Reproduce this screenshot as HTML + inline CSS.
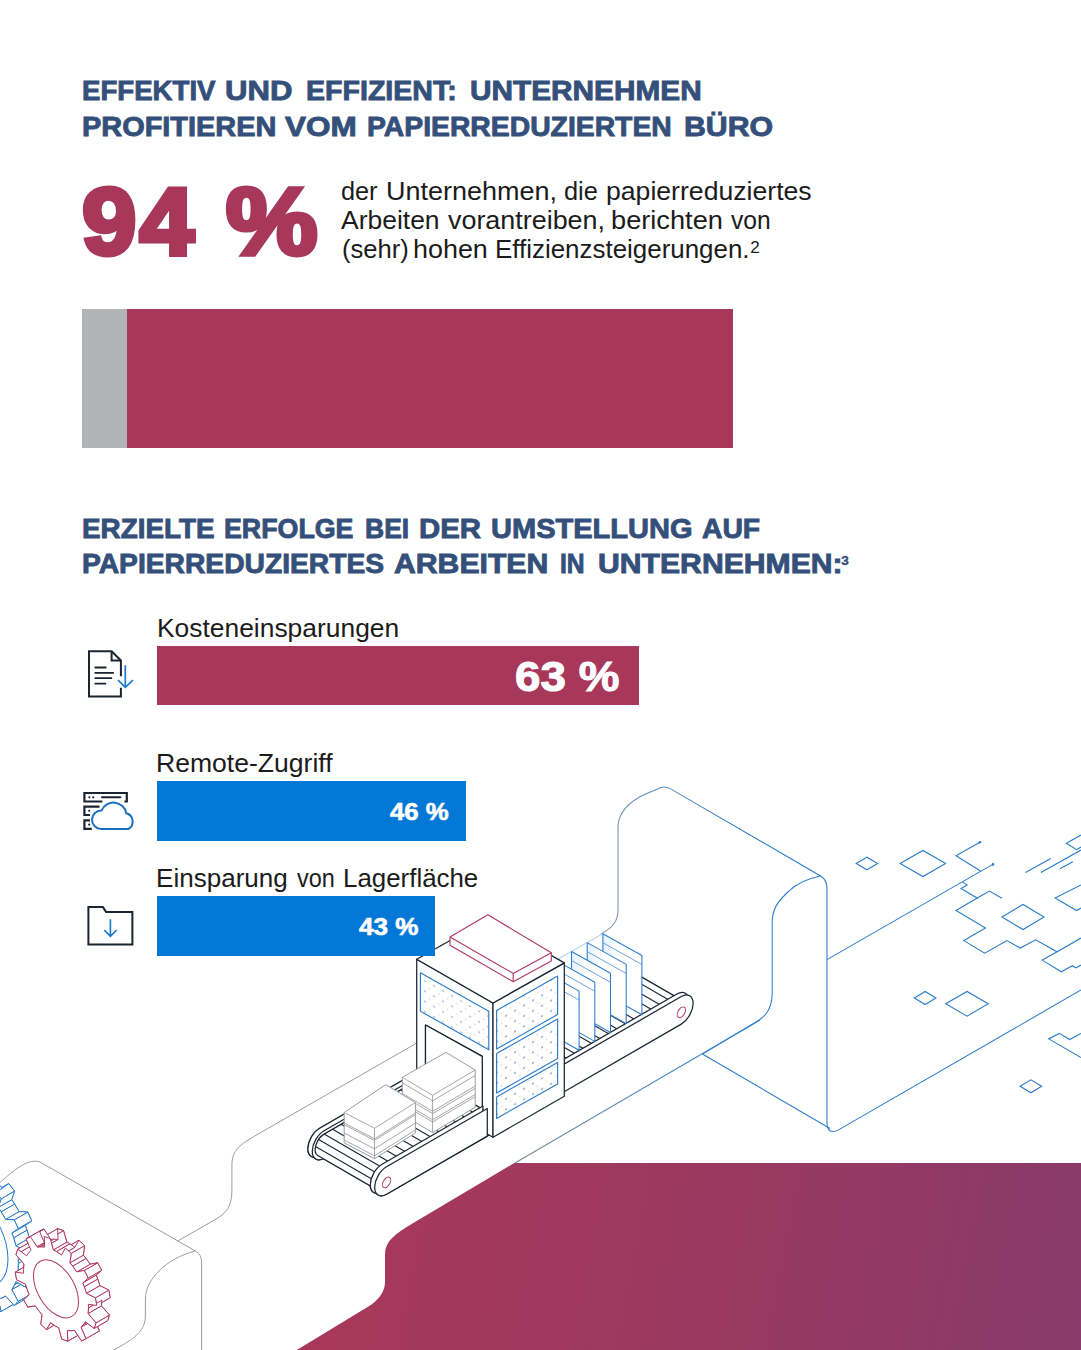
<!DOCTYPE html>
<html lang="de">
<head>
<meta charset="utf-8">
<title>Papierreduziertes Büro</title>
<style>
html,body{margin:0;padding:0;background:#fff;}
body{width:1081px;height:1350px;position:relative;overflow:hidden;font-family:"Liberation Sans",sans-serif;}
.abs{position:absolute;white-space:nowrap;line-height:1;}
.h{color:#34507a;font-weight:bold;font-size:28px;-webkit-text-stroke:0.9px #34507a;transform-origin:0 0;}
.p{color:#1b1b1b;font-size:25px;transform-origin:0 0;}
.big{color:#a8385b;font-weight:bold;font-size:95px;-webkit-text-stroke:5px #a8385b;transform-origin:0 0;}
.lab{color:#1b1b1b;font-size:25px;transform-origin:0 0;}
.bar{position:absolute;}
.val{color:#fff;font-weight:bold;-webkit-text-stroke:1px #fff;transform-origin:0 0;}
sup{font-size:0.58em;vertical-align:baseline;position:relative;top:-0.55em;-webkit-text-stroke:0;}
</style>
</head>
<body>
<!-- SECTION 1 -->
<div class="abs h" style="left:81.7px;top:76.5px;transform:scaleX(0.9867);">EFFEKTIV</div>
<div class="abs h" style="left:224.7px;top:76.5px;transform:scaleX(1.1119);">UND</div>
<div class="abs h" style="left:306.1px;top:76.5px;transform:scaleX(1.02);">EFFIZIENT:</div>
<div class="abs h" style="left:469.5px;top:76.5px;transform:scaleX(1.0639);">UNTERNEHMEN</div>
<div class="abs h" style="left:81.7px;top:112.7px;transform:scaleX(1.0328);">PROFITIEREN</div>
<div class="abs h" style="left:284.8px;top:112.7px;transform:scaleX(1.1254);">VOM</div>
<div class="abs h" style="left:367.0px;top:112.7px;transform:scaleX(1.0114);">PAPIERREDUZIERTEN</div>
<div class="abs h" style="left:683.6px;top:112.7px;transform:scaleX(1.0815);">BÜRO</div>
<div id="big" class="abs big" style="left:82px;top:174px;letter-spacing:3px;transform:scaleX(1.03);">94</div>
<div id="big2" class="abs big" style="left:225.5px;top:174px;transform:scaleX(1.083);">%</div>
<div class="abs p" style="left:340.5px;top:179.3px;transform:scaleX(1.0114);">der</div>
<div class="abs p" style="left:385.5px;top:179.3px;transform:scaleX(1.0787);">Unternehmen,</div>
<div class="abs p" style="left:563.8px;top:179.3px;transform:scaleX(1.0156);">die</div>
<div class="abs p" style="left:605.8px;top:179.3px;transform:scaleX(1.0646);">papierreduziertes</div>
<div class="abs p" style="left:340.8px;top:208.3px;transform:scaleX(1.0587);">Arbeiten</div>
<div class="abs p" style="left:447.9px;top:208.3px;transform:scaleX(1.0757);">vorantreiben,</div>
<div class="abs p" style="left:610.6px;top:208.3px;transform:scaleX(1.0881);">berichten</div>
<div class="abs p" style="left:731.3px;top:208.3px;transform:scaleX(0.9846);">von</div>
<div class="abs p" style="left:341.5px;top:237.3px;transform:scaleX(1.0238);">(sehr)</div>
<div class="abs p" style="left:413.1px;top:237.3px;transform:scaleX(1.0761);">hohen</div>
<div class="abs p" style="left:495.1px;top:237.3px;transform:scaleX(1.0368);">Effizienzsteigerungen.</div>
<div id="p3s" class="abs p" style="left:750.3px;top:239.3px;font-size:17px;">2</div>
<div class="bar" style="left:82px;top:309px;width:45px;height:139px;background:#b0b4b7;"></div>
<div class="bar" style="left:126.5px;top:309px;width:606.5px;height:139px;background:#a8385b;"></div>
<!-- SECTION 2 -->
<div class="abs h" style="left:81.7px;top:514.5px;transform:scaleX(0.9939);">ERZIELTE</div>
<div class="abs h" style="left:223.8px;top:514.5px;transform:scaleX(0.9567);">ERFOLGE</div>
<div class="abs h" style="left:364.5px;top:514.5px;transform:scaleX(0.9467);">BEI</div>
<div class="abs h" style="left:419.0px;top:514.5px;transform:scaleX(1.05);">DER</div>
<div class="abs h" style="left:490.5px;top:514.5px;transform:scaleX(1.0363);">UMSTELLUNG</div>
<div class="abs h" style="left:702.0px;top:514.5px;transform:scaleX(1.0105);">AUF</div>
<div class="abs h" style="left:81.7px;top:550.3px;transform:scaleX(1.0077);">PAPIERREDUZIERTES</div>
<div class="abs h" style="left:393.7px;top:550.3px;transform:scaleX(1.0782);">ARBEITEN</div>
<div class="abs h" style="left:560.0px;top:550.3px;transform:scaleX(0.8808);">IN</div>
<div class="abs h" style="left:597.6px;top:550.3px;transform:scaleX(1.0772);">UNTERNEHMEN:</div>
<div id="h2s" class="abs h" style="left:841.3px;top:553.6px;font-size:13.5px;-webkit-text-stroke:0.4px #34507a;">3</div>
<svg id="illus" class="abs" style="left:0;top:0;" width="1081" height="1350" viewBox="0 0 1081 1350">
<defs><linearGradient id="mg" gradientUnits="userSpaceOnUse" x1="330" y1="1200" x2="1081" y2="1350"><stop offset="0" stop-color="#a8385b"/><stop offset="0.45" stop-color="#9c395f"/><stop offset="1" stop-color="#883a6a"/></linearGradient><linearGradient id="lg" gradientUnits="userSpaceOnUse" x1="760" y1="1020" x2="515" y2="1164"><stop offset="0" stop-color="#2b80d2"/><stop offset="0.55" stop-color="#5b8fc0"/><stop offset="1" stop-color="#7c8794"/></linearGradient><linearGradient id="bgr" gradientUnits="userSpaceOnUse" x1="600" y1="0" x2="740" y2="0"><stop offset="0" stop-color="#8296ab"/><stop offset="1" stop-color="#2a7ccb"/></linearGradient><linearGradient id="sh" x1="0" y1="0" x2="1" y2="0"><stop offset="0" stop-color="#e4effb"/><stop offset="0.35" stop-color="#ffffff"/><stop offset="1" stop-color="#ffffff"/></linearGradient><pattern id="dots" patternUnits="userSpaceOnUse" width="9" height="10.4" patternTransform="skewY(-29.5)"><circle cx="2" cy="2" r="0.8" fill="#46689a"/><circle cx="6.5" cy="7.2" r="0.8" fill="#f0d6bd"/></pattern><pattern id="dots2" patternUnits="userSpaceOnUse" width="9" height="10.4" patternTransform="skewY(29.5)"><circle cx="2" cy="2" r="0.75" fill="#5b7fb0"/><circle cx="6.5" cy="7.2" r="0.75" fill="#e9c9a8"/></pattern></defs>
<path fill="url(#mg)" d="M1081 1163H514.4L412 1223.8C395 1233.8 385 1241.6 385 1254V1282C385 1293 376.7 1301.7 368 1306.7L296.8 1350H1081Z"/>
<g fill="none" stroke="#94979b" stroke-width="0.95">
<path d="M416 1043.5L258.2 1134C240 1144.5 231.9 1150 231.9 1165V1190C231.9 1207 226 1213 216.6 1218.7L177.8 1241"/>
<path d="M0 1182.5C14 1170 28 1158 40 1162L195.4 1251Q201.6 1254.5 201.6 1262V1350"/>
<path d="M195.4 1251C180 1255 168 1262 160 1270C150 1280 145.4 1288 145.4 1300V1316C145.4 1330 135 1338 120 1346.5L112 1351"/>
</g>
<g fill="none" stroke="#2a7ccb" stroke-width="1.05">
<path stroke="url(#bgr)" d="M601 934C612 928 618 922 618 910V826.6C618.5 812 629 802 643.8 794.7L660.5 787.8Q664.7 785.9 670.2 788.6L820.6 876Q827 880 827 888V1123C827 1128 829 1131.5 833 1131.5C835 1131.5 836.5 1131 838.5 1129.9L1081 990"/>
<path d="M820.6 876C806 879 796 884 789 891C778 901 772.2 909 772.2 922V992C772.2 1009 766 1016.5 754.5 1023L702.4 1054"/>
<path d="M702.4 1054L830 1128.5"/>
<path d="M827 959.6L980.5 871.4L993 864.4"/>
</g>
<path d="M760 1020L515 1163" fill="none" stroke="url(#lg)" stroke-width="1.1"/>
<g fill="none" stroke="#2a7ccb" stroke-width="1.1" stroke-linejoin="miter">
<path d="M856.2 863.5L866.9 857.2L877.6 863.5L866.9 869.8Z"/>
<path d="M900.2 863.5L922.9 850.5L945.6 863.5L922.9 876.5Z"/>
<path d="M1002.0 917.0L1023.0 904.5L1044.0 917.0L1023.0 929.5Z"/>
<path d="M914.3 998.0L925.1 991.5L935.9 998.0L925.1 1004.5Z"/>
<path d="M945.7 1003.8L967.0 991.4L988.3 1003.8L967.0 1016.2Z"/>
<path d="M1020.1 1086.3L1030.9 1079.8L1041.7 1086.3L1030.9 1092.8Z"/>
<path d="M979.9 842.3L956 855.7L980.5 871"/>
<path d="M962.4 882.1L967.1 884.9L961 888.6L977.2 898L989.4 891.1L1001.9 898.3"/>
<path d="M977.2 898L956 910.5L985.5 928.1L963.8 940.6L984.7 953.2L1007 940.6L1020.3 948.1L1035.6 939.8L1057.1 951.8L1081 938"/>
<path d="M1057.1 951.8L1042.3 960.1L1061.3 971.8L1072.4 965.7L1075.7 967.9L1081 965"/>
<path d="M1081 885L1055.1 898L1076.6 910.5L1081 908"/>
<path d="M1025.6 872.4L1050.7 858.5M1040.9 872.4L1081 850M1059.9 868.8L1072.9 861.8"/>
<path d="M1081 835L1066.3 843.2L1076.6 849.6L1081 847"/>
<path d="M1081 1033.4L1069.6 1039.5L1059.3 1033.4L1048.7 1038.9L1081 1057.6"/>
</g>
<circle cx="979.9" cy="842.3" r="1.3" fill="#2a7ccb"/><circle cx="993" cy="864.4" r="1.3" fill="#2a7ccb"/>
<g stroke="#1b2532" stroke-width="1.25" stroke-linejoin="round" fill="#fff">
<path d="M319.7 1128.2 L614.5 958.0 A16.90 9.76 120.0 0 1 614.5 985.6 L319.7 1155.8 A16.90 9.76 120.0 0 1 319.7 1128.2Z"/>
<path d="M324.1 1130.7 L618.9 960.5 A16.90 9.76 120.0 0 1 618.9 988.1 L324.1 1158.3 A16.90 9.76 120.0 0 1 324.1 1130.7Z"/>
<path d="M324.1 1134.1 L618.9 963.9 L676.9 997.4 L382.1 1167.6 A12.74 7.35 120.0 0 0 375.7 1189.0 L317.8 1155.5 A12.74 7.35 120.0 0 1 324.1 1134.1Z" />
<path fill="none" stroke-width="1.1" d="M324.1 1134.1L382.1 1167.6M332.6 1129.2L390.6 1162.7M341.1 1124.3L399.1 1157.8M349.6 1119.4L407.6 1152.9M358.1 1114.5L416.0 1148.0M366.6 1109.6L424.5 1143.1M375.1 1104.7L433.0 1138.2M383.6 1099.8L441.5 1133.3M392.0 1094.9L450.0 1128.4M400.5 1090.0L458.5 1123.5M409.0 1085.1L467.0 1118.6M417.5 1080.2L475.5 1113.7M426.0 1075.3L483.9 1108.8M434.5 1070.4L492.4 1103.9M443.0 1065.5L500.9 1099.0M451.5 1060.6L509.4 1094.1M459.9 1055.7L517.9 1089.2M468.4 1050.8L526.4 1084.3M476.9 1045.9L534.9 1079.4M485.4 1041.0L543.3 1074.5M493.9 1036.1L551.8 1069.6M502.4 1031.2L560.3 1064.7M510.9 1026.3L568.8 1059.8M519.3 1021.4L577.3 1054.9M527.8 1016.5L585.8 1050.0M536.3 1011.6L594.3 1045.1M544.8 1006.7L602.8 1040.2M553.3 1001.8L611.2 1035.3M561.8 996.9L619.7 1030.4M570.3 992.0L628.2 1025.5M578.8 987.1L636.7 1020.6M587.2 982.2L645.2 1015.7M595.7 977.3L653.7 1010.8M604.2 972.4L662.2 1005.9M612.7 967.5L670.7 1001.0M318.6 1139.5L376.6 1173.0M315.5 1146.4L373.5 1179.9"/>
<path d="M382.1 1164.2 L676.9 994.0 A16.90 9.76 120.0 0 1 676.9 1021.6 L382.1 1191.8 A16.90 9.76 120.0 0 1 382.1 1164.2Z"/>
<path d="M386.5 1166.7 L681.3 996.5 A16.90 9.76 120.0 0 1 681.3 1024.1 L386.5 1194.3 A16.90 9.76 120.0 0 1 386.5 1166.7Z"/>
</g>
<ellipse cx="386.6" cy="1182.4" rx="5.88" ry="3.39" transform="rotate(120.0 386.6 1182.4)" fill="none" stroke="#b13a5f" stroke-width="1"/>
<ellipse cx="681.4" cy="1012.3" rx="5.88" ry="3.39" transform="rotate(120.0 681.4 1012.3)" fill="none" stroke="#b13a5f" stroke-width="1"/>
<path d="M540.1 969.3 L602.9 933.7" stroke="#9cc4ea" stroke-width="0.9" fill="none"/>
<path d="M602.9 933.7L641.9 955.5L641.9 1014.7L602.9 992.9Z" fill="url(#sh)" stroke="#2a7ccb" stroke-width="1.05" stroke-linejoin="round"/>
<path d="M602.9 942.7 L641.9 964.5" stroke="#5e9bd8" stroke-width="0.9" fill="none"/>
<path d="M587.2 942.6L626.2 964.4L626.2 1023.6L587.2 1001.8Z" fill="url(#sh)" stroke="#2a7ccb" stroke-width="1.05" stroke-linejoin="round"/>
<path d="M587.2 951.6 L626.2 973.4" stroke="#5e9bd8" stroke-width="0.9" fill="none"/>
<path d="M571.5 951.5L610.5 973.3L610.5 1032.5L571.5 1010.7Z" fill="url(#sh)" stroke="#2a7ccb" stroke-width="1.05" stroke-linejoin="round"/>
<path d="M571.5 960.5 L610.5 982.3" stroke="#5e9bd8" stroke-width="0.9" fill="none"/>
<path d="M555.8 960.4L594.8 982.2L594.8 1041.4L555.8 1019.6Z" fill="url(#sh)" stroke="#2a7ccb" stroke-width="1.05" stroke-linejoin="round"/>
<path d="M555.8 969.4 L594.8 991.2" stroke="#5e9bd8" stroke-width="0.9" fill="none"/>
<path d="M540.1 969.3L579.1 991.1L579.1 1050.3L540.1 1028.5Z" fill="url(#sh)" stroke="#2a7ccb" stroke-width="1.05" stroke-linejoin="round"/>
<path d="M540.1 978.3 L579.1 1000.1" stroke="#5e9bd8" stroke-width="0.9" fill="none"/>
<g stroke="#1b2532" stroke-width="1.25" stroke-linejoin="round" fill="#fff">
<path fill-rule="evenodd" d="M416.7 959.2L493.0 1003.0L493.0 1137.3L416.7 1093.5Z M425.5 1025.0L482.3 1056.4L482.3 1131.5L425.5 1099.0Z"/>
<path d="M493.0 1003.0L564.3 962.9L564.3 1096.2L493.0 1137.3Z"/>
<path d="M416.7 959.2L488.0 919.2L564.3 962.9L493.0 1003.0Z"/>
</g>
<path d="M425.5 1025.0L482.3 1056.4L482.3 1131.5L425.5 1099.0Z" fill="#fff" stroke="#1b2532" stroke-width="1.25" stroke-linejoin="round"/>
<path d="M420.4 972.7L488.8 1011.3L488.8 1049.8L420.4 1011.2Z" fill="url(#dots2)" stroke="#2a7ccb" stroke-width="1.15" stroke-linejoin="round"/>
<path d="M496.6 1010.5L557.6 976.0L557.6 1014.5L496.6 1049.0Z" fill="url(#dots)" stroke="#2a7ccb" stroke-width="1.15" stroke-linejoin="round"/>
<path d="M496.6 1053.6L557.6 1019.1L557.6 1058.6L496.6 1093.1Z" fill="url(#dots)" stroke="#2a7ccb" stroke-width="1.15" stroke-linejoin="round"/>
<path d="M496.6 1096.9L557.6 1062.4L557.6 1083.9L496.6 1118.4Z" fill="url(#dots)" stroke="#2a7ccb" stroke-width="1.15" stroke-linejoin="round"/>
<path d="M450.0 937.0L487.9 914.8L551.3 952.7L551.3 961.0L513.2 981.7L450.0 945.3Z" fill="#fff" stroke="#b13a5f" stroke-width="1.15" stroke-linejoin="round"/>
<path d="M450.0 937.0 L513.2 973.4 L551.3 952.7 M513.2 973.4 L513.2 981.7" fill="none" stroke="#b13a5f" stroke-width="1.15" stroke-linejoin="round"/>
<g stroke="#1b2532" stroke-width="1.25" stroke-linejoin="round" fill="#fff">
<path d="M319.7 1128.2 L420.5 1070.0 L420.5 1097.6 L319.7 1155.8 A16.90 9.76 120.0 0 1 319.7 1128.2Z"/>
<path d="M324.1 1130.7 L424.9 1072.5 L424.9 1100.1 L324.1 1158.3 A16.90 9.76 120.0 0 1 324.1 1130.7Z"/>
<path d="M324.1 1134.1 L424.9 1075.9 L482.9 1109.4 L382.1 1167.6 A12.74 7.35 120.0 0 0 375.7 1189.0 L317.8 1155.5 A12.74 7.35 120.0 0 1 324.1 1134.1Z" />
<path fill="none" stroke-width="1.1" d="M324.1 1134.1L382.1 1167.6M332.6 1129.2L390.6 1162.7M341.1 1124.3L399.1 1157.8M349.6 1119.4L407.6 1152.9M358.1 1114.5L416.0 1148.0M366.6 1109.6L424.5 1143.1M375.1 1104.7L433.0 1138.2M383.6 1099.8L441.5 1133.3M392.0 1094.9L450.0 1128.4M400.5 1090.0L458.5 1123.5M409.0 1085.1L467.0 1118.6M417.5 1080.2L475.5 1113.7M318.6 1139.5L376.6 1173.0M315.5 1146.4L373.5 1179.9"/>
<path d="M382.1 1164.2 L482.9 1106.0 L482.9 1133.6 L382.1 1191.8 A16.90 9.76 120.0 0 1 382.1 1164.2Z"/>
<path d="M386.5 1166.7 L487.3 1108.5 L487.3 1136.1 L386.5 1194.3 A16.90 9.76 120.0 0 1 386.5 1166.7Z"/>
</g>
<ellipse cx="386.6" cy="1182.4" rx="5.88" ry="3.39" transform="rotate(120.0 386.6 1182.4)" fill="none" stroke="#b13a5f" stroke-width="1"/>
<path d="M402.3 1077.3L446.0 1052.4L475.2 1070.0L475.2 1107.3L432.6 1132.6L402.3 1114.6Z" fill="#fff" stroke="#9b9da0" stroke-width="1" stroke-linejoin="round"/>
<path d="M402.3 1077.3L432.6 1095.3L475.2 1070.0M432.6 1095.3L432.6 1132.6M402.3 1082.8L432.6 1100.8L475.2 1075.5M402.3 1093.3L432.6 1111.3L475.2 1086.0M402.3 1095.6L432.6 1113.6L475.2 1088.3M402.3 1101.8L432.6 1119.8L475.2 1094.5M402.3 1104.0L432.6 1122.0L475.2 1096.7" fill="none" stroke="#9b9da0" stroke-width="0.9" stroke-linejoin="round"/>
<path d="M344.2 1112.5L385.8 1084.6L415.4 1102.5L415.4 1132.9L374.5 1158.7L344.2 1142.9Z" fill="#fff" stroke="#9b9da0" stroke-width="1" stroke-linejoin="round"/>
<path d="M344.2 1112.5L374.5 1128.3L415.4 1102.5M374.5 1128.3L374.5 1158.7M344.2 1123.0L374.5 1138.8L415.4 1113.0M344.2 1124.7L374.5 1140.5L415.4 1114.7M344.2 1133.0L374.5 1148.8L415.4 1123.0M344.2 1140.0L374.5 1155.8L415.4 1130.0" fill="none" stroke="#9b9da0" stroke-width="0.9" stroke-linejoin="round"/>
<path d="M31.8 1255.9L31.5 1251.5L40.2 1252.1L38.8 1243.5L29.3 1238.0L27.0 1230.1L25.3 1225.3L31.7 1220.8L27.7 1212.1L19.0 1211.6L14.6 1204.0L11.6 1199.7L14.6 1191.0L8.7 1183.6L2.4 1188.1L-3.5 1182.3L-7.1 1179.1L-8.0 1167.7L-14.8 1162.9L-17.7 1171.7L-23.9 1168.6L-27.6 1167.2L-32.3 1154.9L-38.8 1153.6L-37.8 1165.1L-43.3 1165.2L-46.4 1165.8L-54.0 1154.9L-59.1 1157.3L-54.4 1169.5L-58.2 1172.9L-60.2 1175.4L-69.5 1167.7L-72.3 1173.3L-64.6 1184.2L-66.1 1190.2L-66.6 1194.2L-75.9 1191.0L-75.9 1198.9L-66.7 1206.5L-65.6 1214.2L-64.6 1218.9L-72.3 1220.9L-69.5 1229.7L-60.3 1232.8L-56.8 1240.7L-54.4 1245.4L-59.2 1252.1L-54.1 1260.3L-46.5 1258.3L-41.2 1265.1L-37.9 1269.0L-38.9 1279.3L-32.4 1285.5L-27.7 1278.7L-21.6 1283.3L-17.8 1285.6L-15.0 1297.7L-8.1 1300.8L-7.2 1290.5L-1.2 1292.0L2.3 1292.4L8.6 1304.2L14.5 1303.7L11.6 1291.6L16.3 1289.8L18.9 1288.2L27.6 1297.7L31.6 1293.6L25.2 1281.8L28.0 1277.0L29.3 1273.7L38.8 1279.2L40.2 1272.3L31.5 1262.9Z" fill="#fff" stroke="#2a7ccb" stroke-width="1" stroke-linejoin="round"/>
<path d="M18.3 1263.6L18.1 1259.2L31.5 1251.5L31.8 1255.9Z" fill="#fff" stroke="#2a7ccb" stroke-width="1" stroke-linejoin="round"/>
<path d="M18.1 1259.2L26.8 1259.8L40.2 1252.1L31.5 1251.5Z" fill="#fff" stroke="#2a7ccb" stroke-width="1" stroke-linejoin="round"/>
<path d="M26.8 1259.8L25.4 1251.2L38.8 1243.5L40.2 1252.1Z" fill="#fff" stroke="#2a7ccb" stroke-width="1" stroke-linejoin="round"/>
<path d="M25.4 1251.2L15.9 1245.8L29.3 1238.0L38.8 1243.5Z" fill="#fff" stroke="#2a7ccb" stroke-width="1" stroke-linejoin="round"/>
<path d="M15.9 1245.8L13.6 1237.8L27.0 1230.1L29.3 1238.0Z" fill="#fff" stroke="#2a7ccb" stroke-width="1" stroke-linejoin="round"/>
<path d="M13.6 1237.8L11.9 1233.0L25.3 1225.3L27.0 1230.1Z" fill="#fff" stroke="#2a7ccb" stroke-width="1" stroke-linejoin="round"/>
<path d="M11.9 1233.0L18.3 1228.6L31.7 1220.8L25.3 1225.3Z" fill="#fff" stroke="#2a7ccb" stroke-width="1" stroke-linejoin="round"/>
<path d="M18.3 1228.6L14.2 1219.9L27.7 1212.1L31.7 1220.8Z" fill="#fff" stroke="#2a7ccb" stroke-width="1" stroke-linejoin="round"/>
<path d="M14.2 1219.9L5.6 1219.4L19.0 1211.6L27.7 1212.1Z" fill="#fff" stroke="#2a7ccb" stroke-width="1" stroke-linejoin="round"/>
<path d="M5.6 1219.4L1.1 1211.8L14.6 1204.0L19.0 1211.6Z" fill="#fff" stroke="#2a7ccb" stroke-width="1" stroke-linejoin="round"/>
<path d="M1.1 1211.8L-1.8 1207.4L11.6 1199.7L14.6 1204.0Z" fill="#fff" stroke="#2a7ccb" stroke-width="1" stroke-linejoin="round"/>
<path d="M-1.8 1207.4L1.2 1198.8L14.6 1191.0L11.6 1199.7Z" fill="#fff" stroke="#2a7ccb" stroke-width="1" stroke-linejoin="round"/>
<path d="M1.2 1198.8L-4.7 1191.4L8.7 1183.6L14.6 1191.0Z" fill="#fff" stroke="#2a7ccb" stroke-width="1" stroke-linejoin="round"/>
<path d="M-4.7 1191.4L-11.1 1195.9L2.4 1188.1L8.7 1183.6Z" fill="#fff" stroke="#2a7ccb" stroke-width="1" stroke-linejoin="round"/>
<path d="M-11.1 1195.9L-16.9 1190.0L-3.5 1182.3L2.4 1188.1Z" fill="#fff" stroke="#2a7ccb" stroke-width="1" stroke-linejoin="round"/>
<path d="M-16.9 1190.0L-20.5 1186.9L-7.1 1179.1L-3.5 1182.3Z" fill="#fff" stroke="#2a7ccb" stroke-width="1" stroke-linejoin="round"/>
<path d="M-20.5 1186.9L-21.4 1175.4L-8.0 1167.7L-7.1 1179.1Z" fill="#fff" stroke="#2a7ccb" stroke-width="1" stroke-linejoin="round"/>
<path d="M-21.4 1175.4L-28.2 1170.7L-14.8 1162.9L-8.0 1167.7Z" fill="#fff" stroke="#2a7ccb" stroke-width="1" stroke-linejoin="round"/>
<path d="M-28.2 1170.7L-31.2 1179.4L-17.7 1171.7L-14.8 1162.9Z" fill="#fff" stroke="#2a7ccb" stroke-width="1" stroke-linejoin="round"/>
<path d="M-31.2 1179.4L-37.3 1176.3L-23.9 1168.6L-17.7 1171.7Z" fill="#fff" stroke="#2a7ccb" stroke-width="1" stroke-linejoin="round"/>
<path d="M-37.3 1176.3L-41.0 1174.9L-27.6 1167.2L-23.9 1168.6Z" fill="#fff" stroke="#2a7ccb" stroke-width="1" stroke-linejoin="round"/>
<path d="M-41.0 1174.9L-45.7 1162.7L-32.3 1154.9L-27.6 1167.2Z" fill="#fff" stroke="#2a7ccb" stroke-width="1" stroke-linejoin="round"/>
<path d="M-45.7 1162.7L-52.2 1161.4L-38.8 1153.6L-32.3 1154.9Z" fill="#fff" stroke="#2a7ccb" stroke-width="1" stroke-linejoin="round"/>
<path d="M-52.2 1161.4L-51.2 1172.8L-37.8 1165.1L-38.8 1153.6Z" fill="#fff" stroke="#2a7ccb" stroke-width="1" stroke-linejoin="round"/>
<path d="M-51.2 1172.8L-56.7 1173.0L-43.3 1165.2L-37.8 1165.1Z" fill="#fff" stroke="#2a7ccb" stroke-width="1" stroke-linejoin="round"/>
<path d="M-56.7 1173.0L-59.8 1173.6L-46.4 1165.8L-43.3 1165.2Z" fill="#fff" stroke="#2a7ccb" stroke-width="1" stroke-linejoin="round"/>
<path d="M-59.8 1173.6L-67.4 1162.7L-54.0 1154.9L-46.4 1165.8Z" fill="#fff" stroke="#2a7ccb" stroke-width="1" stroke-linejoin="round"/>
<path d="M-67.4 1162.7L-72.5 1165.0L-59.1 1157.3L-54.0 1154.9Z" fill="#fff" stroke="#2a7ccb" stroke-width="1" stroke-linejoin="round"/>
<path d="M-72.5 1165.0L-67.8 1177.3L-54.4 1169.5L-59.1 1157.3Z" fill="#fff" stroke="#2a7ccb" stroke-width="1" stroke-linejoin="round"/>
<path d="M-67.8 1177.3L-71.6 1180.7L-58.2 1172.9L-54.4 1169.5Z" fill="#fff" stroke="#2a7ccb" stroke-width="1" stroke-linejoin="round"/>
<path d="M-71.6 1180.7L-73.6 1183.1L-60.2 1175.4L-58.2 1172.9Z" fill="#fff" stroke="#2a7ccb" stroke-width="1" stroke-linejoin="round"/>
<path d="M-73.6 1183.1L-82.9 1175.5L-69.5 1167.7L-60.2 1175.4Z" fill="#fff" stroke="#2a7ccb" stroke-width="1" stroke-linejoin="round"/>
<path d="M-82.9 1175.5L-85.7 1181.1L-72.3 1173.3L-69.5 1167.7Z" fill="#fff" stroke="#2a7ccb" stroke-width="1" stroke-linejoin="round"/>
<path d="M-85.7 1181.1L-78.0 1191.9L-64.6 1184.2L-72.3 1173.3Z" fill="#fff" stroke="#2a7ccb" stroke-width="1" stroke-linejoin="round"/>
<path d="M-78.0 1191.9L-79.5 1198.0L-66.1 1190.2L-64.6 1184.2Z" fill="#fff" stroke="#2a7ccb" stroke-width="1" stroke-linejoin="round"/>
<path d="M-79.5 1198.0L-80.1 1201.9L-66.6 1194.2L-66.1 1190.2Z" fill="#fff" stroke="#2a7ccb" stroke-width="1" stroke-linejoin="round"/>
<path d="M-80.1 1201.9L-89.4 1198.8L-75.9 1191.0L-66.6 1194.2Z" fill="#fff" stroke="#2a7ccb" stroke-width="1" stroke-linejoin="round"/>
<path d="M-89.4 1198.8L-89.4 1206.7L-75.9 1198.9L-75.9 1191.0Z" fill="#fff" stroke="#2a7ccb" stroke-width="1" stroke-linejoin="round"/>
<path d="M-89.4 1206.7L-80.1 1214.3L-66.7 1206.5L-75.9 1198.9Z" fill="#fff" stroke="#2a7ccb" stroke-width="1" stroke-linejoin="round"/>
<path d="M-80.1 1214.3L-79.0 1222.0L-65.6 1214.2L-66.7 1206.5Z" fill="#fff" stroke="#2a7ccb" stroke-width="1" stroke-linejoin="round"/>
<path d="M-79.0 1222.0L-78.0 1226.7L-64.6 1218.9L-65.6 1214.2Z" fill="#fff" stroke="#2a7ccb" stroke-width="1" stroke-linejoin="round"/>
<path d="M-78.0 1226.7L-85.7 1228.6L-72.3 1220.9L-64.6 1218.9Z" fill="#fff" stroke="#2a7ccb" stroke-width="1" stroke-linejoin="round"/>
<path d="M-85.7 1228.6L-82.9 1237.5L-69.5 1229.7L-72.3 1220.9Z" fill="#fff" stroke="#2a7ccb" stroke-width="1" stroke-linejoin="round"/>
<path d="M-82.9 1237.5L-73.7 1240.5L-60.3 1232.8L-69.5 1229.7Z" fill="#fff" stroke="#2a7ccb" stroke-width="1" stroke-linejoin="round"/>
<path d="M-73.7 1240.5L-70.2 1248.5L-56.8 1240.7L-60.3 1232.8Z" fill="#fff" stroke="#2a7ccb" stroke-width="1" stroke-linejoin="round"/>
<path d="M-70.2 1248.5L-67.9 1253.1L-54.4 1245.4L-56.8 1240.7Z" fill="#fff" stroke="#2a7ccb" stroke-width="1" stroke-linejoin="round"/>
<path d="M-67.9 1253.1L-72.6 1259.8L-59.2 1252.1L-54.4 1245.4Z" fill="#fff" stroke="#2a7ccb" stroke-width="1" stroke-linejoin="round"/>
<path d="M-72.6 1259.8L-67.6 1268.1L-54.1 1260.3L-59.2 1252.1Z" fill="#fff" stroke="#2a7ccb" stroke-width="1" stroke-linejoin="round"/>
<path d="M-67.6 1268.1L-59.9 1266.0L-46.5 1258.3L-54.1 1260.3Z" fill="#fff" stroke="#2a7ccb" stroke-width="1" stroke-linejoin="round"/>
<path d="M-59.9 1266.0L-54.6 1272.9L-41.2 1265.1L-46.5 1258.3Z" fill="#fff" stroke="#2a7ccb" stroke-width="1" stroke-linejoin="round"/>
<path d="M-54.6 1272.9L-51.3 1276.7L-37.9 1269.0L-41.2 1265.1Z" fill="#fff" stroke="#2a7ccb" stroke-width="1" stroke-linejoin="round"/>
<path d="M-51.3 1276.7L-52.4 1287.0L-38.9 1279.3L-37.9 1269.0Z" fill="#fff" stroke="#2a7ccb" stroke-width="1" stroke-linejoin="round"/>
<path d="M-52.4 1287.0L-45.8 1293.2L-32.4 1285.5L-38.9 1279.3Z" fill="#fff" stroke="#2a7ccb" stroke-width="1" stroke-linejoin="round"/>
<path d="M-45.8 1293.2L-41.1 1286.5L-27.7 1278.7L-32.4 1285.5Z" fill="#fff" stroke="#2a7ccb" stroke-width="1" stroke-linejoin="round"/>
<path d="M-41.1 1286.5L-35.0 1291.0L-21.6 1283.3L-27.7 1278.7Z" fill="#fff" stroke="#2a7ccb" stroke-width="1" stroke-linejoin="round"/>
<path d="M-35.0 1291.0L-31.3 1293.3L-17.8 1285.6L-21.6 1283.3Z" fill="#fff" stroke="#2a7ccb" stroke-width="1" stroke-linejoin="round"/>
<path d="M-31.3 1293.3L-28.4 1305.4L-15.0 1297.7L-17.8 1285.6Z" fill="#fff" stroke="#2a7ccb" stroke-width="1" stroke-linejoin="round"/>
<path d="M-28.4 1305.4L-21.6 1308.6L-8.1 1300.8L-15.0 1297.7Z" fill="#fff" stroke="#2a7ccb" stroke-width="1" stroke-linejoin="round"/>
<path d="M-21.6 1308.6L-20.6 1298.2L-7.2 1290.5L-8.1 1300.8Z" fill="#fff" stroke="#2a7ccb" stroke-width="1" stroke-linejoin="round"/>
<path d="M-20.6 1298.2L-14.6 1299.7L-1.2 1292.0L-7.2 1290.5Z" fill="#fff" stroke="#2a7ccb" stroke-width="1" stroke-linejoin="round"/>
<path d="M-14.6 1299.7L-11.2 1300.1L2.3 1292.4L-1.2 1292.0Z" fill="#fff" stroke="#2a7ccb" stroke-width="1" stroke-linejoin="round"/>
<path d="M-11.2 1300.1L-4.8 1312.0L8.6 1304.2L2.3 1292.4Z" fill="#fff" stroke="#2a7ccb" stroke-width="1" stroke-linejoin="round"/>
<path d="M-4.8 1312.0L1.1 1311.4L14.5 1303.7L8.6 1304.2Z" fill="#fff" stroke="#2a7ccb" stroke-width="1" stroke-linejoin="round"/>
<path d="M1.1 1311.4L-1.9 1299.3L11.6 1291.6L14.5 1303.7Z" fill="#fff" stroke="#2a7ccb" stroke-width="1" stroke-linejoin="round"/>
<path d="M-1.9 1299.3L2.9 1297.5L16.3 1289.8L11.6 1291.6Z" fill="#fff" stroke="#2a7ccb" stroke-width="1" stroke-linejoin="round"/>
<path d="M2.9 1297.5L5.5 1295.9L18.9 1288.2L16.3 1289.8Z" fill="#fff" stroke="#2a7ccb" stroke-width="1" stroke-linejoin="round"/>
<path d="M5.5 1295.9L14.2 1305.4L27.6 1297.7L18.9 1288.2Z" fill="#fff" stroke="#2a7ccb" stroke-width="1" stroke-linejoin="round"/>
<path d="M14.2 1305.4L18.2 1301.4L31.6 1293.6L27.6 1297.7Z" fill="#fff" stroke="#2a7ccb" stroke-width="1" stroke-linejoin="round"/>
<path d="M18.2 1301.4L11.8 1289.6L25.2 1281.8L31.6 1293.6Z" fill="#fff" stroke="#2a7ccb" stroke-width="1" stroke-linejoin="round"/>
<path d="M11.8 1289.6L14.6 1284.7L28.0 1277.0L25.2 1281.8Z" fill="#fff" stroke="#2a7ccb" stroke-width="1" stroke-linejoin="round"/>
<path d="M14.6 1284.7L15.9 1281.5L29.3 1273.7L28.0 1277.0Z" fill="#fff" stroke="#2a7ccb" stroke-width="1" stroke-linejoin="round"/>
<path d="M15.9 1281.5L25.3 1287.0L38.8 1279.2L29.3 1273.7Z" fill="#fff" stroke="#2a7ccb" stroke-width="1" stroke-linejoin="round"/>
<path d="M25.3 1287.0L26.8 1280.1L40.2 1272.3L38.8 1279.2Z" fill="#fff" stroke="#2a7ccb" stroke-width="1" stroke-linejoin="round"/>
<path d="M26.8 1280.1L18.1 1270.6L31.5 1262.9L40.2 1272.3Z" fill="#fff" stroke="#2a7ccb" stroke-width="1" stroke-linejoin="round"/>
<path d="M18.1 1270.6L18.3 1263.6L31.8 1255.9L31.5 1262.9Z" fill="#fff" stroke="#2a7ccb" stroke-width="1" stroke-linejoin="round"/>
<path d="M18.3 1263.6L18.1 1259.2L26.8 1259.8L25.4 1251.2L15.9 1245.8L13.6 1237.8L11.9 1233.0L18.3 1228.6L14.2 1219.9L5.6 1219.4L1.1 1211.8L-1.8 1207.4L1.2 1198.8L-4.7 1191.4L-11.1 1195.9L-16.9 1190.0L-20.5 1186.9L-21.4 1175.4L-28.2 1170.7L-31.2 1179.4L-37.3 1176.3L-41.0 1174.9L-45.7 1162.7L-52.2 1161.4L-51.2 1172.8L-56.7 1173.0L-59.8 1173.6L-67.4 1162.7L-72.5 1165.0L-67.8 1177.3L-71.6 1180.7L-73.6 1183.1L-82.9 1175.5L-85.7 1181.1L-78.0 1191.9L-79.5 1198.0L-80.1 1201.9L-89.4 1198.8L-89.4 1206.7L-80.1 1214.3L-79.0 1222.0L-78.0 1226.7L-85.7 1228.6L-82.9 1237.5L-73.7 1240.5L-70.2 1248.5L-67.9 1253.1L-72.6 1259.8L-67.6 1268.1L-59.9 1266.0L-54.6 1272.9L-51.3 1276.7L-52.4 1287.0L-45.8 1293.2L-41.1 1286.5L-35.0 1291.0L-31.3 1293.3L-28.4 1305.4L-21.6 1308.6L-20.6 1298.2L-14.6 1299.7L-11.2 1300.1L-4.8 1312.0L1.1 1311.4L-1.9 1299.3L2.9 1297.5L5.5 1295.9L14.2 1305.4L18.2 1301.4L11.8 1289.6L14.6 1284.7L15.9 1281.5L25.3 1287.0L26.8 1280.1L18.1 1270.6Z" fill="#fff" stroke="#2a7ccb" stroke-width="1" stroke-linejoin="round"/>
<ellipse cx="-31.0" cy="1236.5" rx="55.11" ry="31.82" transform="rotate(-120.0 -31.0 1236.5)" fill="none" stroke="#2a7ccb" stroke-width="1"/>
<path d="M101.9 1300.2L101.8 1296.7L110.1 1297.7L108.8 1290.1L99.9 1285.6L97.7 1279.0L96.1 1275.1L101.7 1270.2L97.6 1262.8L90.2 1264.2L86.0 1258.4L83.3 1255.2L84.6 1245.7L78.9 1240.3L74.9 1247.2L69.8 1243.8L66.8 1242.1L63.5 1230.6L57.6 1228.7L58.1 1239.4L53.5 1239.2L50.9 1239.5L43.9 1229.1L39.5 1231.2L44.4 1242.7L41.5 1245.8L40.1 1248.1L31.2 1241.4L29.4 1247.0L37.4 1256.3L37.0 1261.9L37.1 1265.4L28.7 1264.4L30.0 1272.0L39.0 1276.5L41.1 1283.1L42.7 1287.0L37.1 1291.9L41.2 1299.3L48.7 1297.9L52.8 1303.7L55.6 1306.9L54.2 1316.4L60.0 1321.8L64.0 1314.9L69.0 1318.3L72.1 1320.0L75.4 1331.5L81.3 1333.4L80.7 1322.7L85.3 1322.9L87.9 1322.6L94.9 1333.0L99.4 1330.9L94.4 1319.4L97.4 1316.3L98.8 1314.0L107.6 1320.7L109.5 1315.1L101.4 1305.8Z" fill="#fff" stroke="#b13a5f" stroke-width="1" stroke-linejoin="round"/>
<path d="M88.5 1308.0L88.4 1304.4L101.8 1296.7L101.9 1300.2Z" fill="#fff" stroke="#b13a5f" stroke-width="1" stroke-linejoin="round"/>
<path d="M88.4 1304.4L96.7 1305.4L110.1 1297.7L101.8 1296.7Z" fill="#fff" stroke="#b13a5f" stroke-width="1" stroke-linejoin="round"/>
<path d="M96.7 1305.4L95.4 1297.9L108.8 1290.1L110.1 1297.7Z" fill="#fff" stroke="#b13a5f" stroke-width="1" stroke-linejoin="round"/>
<path d="M95.4 1297.9L86.5 1293.4L99.9 1285.6L108.8 1290.1Z" fill="#fff" stroke="#b13a5f" stroke-width="1" stroke-linejoin="round"/>
<path d="M86.5 1293.4L84.3 1286.8L97.7 1279.0L99.9 1285.6Z" fill="#fff" stroke="#b13a5f" stroke-width="1" stroke-linejoin="round"/>
<path d="M84.3 1286.8L82.7 1282.9L96.1 1275.1L97.7 1279.0Z" fill="#fff" stroke="#b13a5f" stroke-width="1" stroke-linejoin="round"/>
<path d="M82.7 1282.9L88.3 1278.0L101.7 1270.2L96.1 1275.1Z" fill="#fff" stroke="#b13a5f" stroke-width="1" stroke-linejoin="round"/>
<path d="M88.3 1278.0L84.2 1270.5L97.6 1262.8L101.7 1270.2Z" fill="#fff" stroke="#b13a5f" stroke-width="1" stroke-linejoin="round"/>
<path d="M84.2 1270.5L76.7 1271.9L90.2 1264.2L97.6 1262.8Z" fill="#fff" stroke="#b13a5f" stroke-width="1" stroke-linejoin="round"/>
<path d="M76.7 1271.9L72.6 1266.1L86.0 1258.4L90.2 1264.2Z" fill="#fff" stroke="#b13a5f" stroke-width="1" stroke-linejoin="round"/>
<path d="M72.6 1266.1L69.9 1262.9L83.3 1255.2L86.0 1258.4Z" fill="#fff" stroke="#b13a5f" stroke-width="1" stroke-linejoin="round"/>
<path d="M69.9 1262.9L71.2 1253.4L84.6 1245.7L83.3 1255.2Z" fill="#fff" stroke="#b13a5f" stroke-width="1" stroke-linejoin="round"/>
<path d="M71.2 1253.4L65.5 1248.0L78.9 1240.3L84.6 1245.7Z" fill="#fff" stroke="#b13a5f" stroke-width="1" stroke-linejoin="round"/>
<path d="M65.5 1248.0L61.5 1255.0L74.9 1247.2L78.9 1240.3Z" fill="#fff" stroke="#b13a5f" stroke-width="1" stroke-linejoin="round"/>
<path d="M61.5 1255.0L56.4 1251.5L69.8 1243.8L74.9 1247.2Z" fill="#fff" stroke="#b13a5f" stroke-width="1" stroke-linejoin="round"/>
<path d="M56.4 1251.5L53.3 1249.9L66.8 1242.1L69.8 1243.8Z" fill="#fff" stroke="#b13a5f" stroke-width="1" stroke-linejoin="round"/>
<path d="M53.3 1249.9L50.1 1238.4L63.5 1230.6L66.8 1242.1Z" fill="#fff" stroke="#b13a5f" stroke-width="1" stroke-linejoin="round"/>
<path d="M50.1 1238.4L44.2 1236.5L57.6 1228.7L63.5 1230.6Z" fill="#fff" stroke="#b13a5f" stroke-width="1" stroke-linejoin="round"/>
<path d="M44.2 1236.5L44.7 1247.1L58.1 1239.4L57.6 1228.7Z" fill="#fff" stroke="#b13a5f" stroke-width="1" stroke-linejoin="round"/>
<path d="M44.7 1247.1L40.1 1246.9L53.5 1239.2L58.1 1239.4Z" fill="#fff" stroke="#b13a5f" stroke-width="1" stroke-linejoin="round"/>
<path d="M40.1 1246.9L37.5 1247.3L50.9 1239.5L53.5 1239.2Z" fill="#fff" stroke="#b13a5f" stroke-width="1" stroke-linejoin="round"/>
<path d="M37.5 1247.3L30.5 1236.8L43.9 1229.1L50.9 1239.5Z" fill="#fff" stroke="#b13a5f" stroke-width="1" stroke-linejoin="round"/>
<path d="M30.5 1236.8L26.1 1238.9L39.5 1231.2L43.9 1229.1Z" fill="#fff" stroke="#b13a5f" stroke-width="1" stroke-linejoin="round"/>
<path d="M26.1 1238.9L31.0 1250.4L44.4 1242.7L39.5 1231.2Z" fill="#fff" stroke="#b13a5f" stroke-width="1" stroke-linejoin="round"/>
<path d="M31.0 1250.4L28.1 1253.5L41.5 1245.8L44.4 1242.7Z" fill="#fff" stroke="#b13a5f" stroke-width="1" stroke-linejoin="round"/>
<path d="M28.1 1253.5L26.6 1255.8L40.1 1248.1L41.5 1245.8Z" fill="#fff" stroke="#b13a5f" stroke-width="1" stroke-linejoin="round"/>
<path d="M26.6 1255.8L17.8 1249.2L31.2 1241.4L40.1 1248.1Z" fill="#fff" stroke="#b13a5f" stroke-width="1" stroke-linejoin="round"/>
<path d="M17.8 1249.2L16.0 1254.8L29.4 1247.0L31.2 1241.4Z" fill="#fff" stroke="#b13a5f" stroke-width="1" stroke-linejoin="round"/>
<path d="M16.0 1254.8L24.0 1264.0L37.4 1256.3L29.4 1247.0Z" fill="#fff" stroke="#b13a5f" stroke-width="1" stroke-linejoin="round"/>
<path d="M24.0 1264.0L23.5 1269.6L37.0 1261.9L37.4 1256.3Z" fill="#fff" stroke="#b13a5f" stroke-width="1" stroke-linejoin="round"/>
<path d="M23.5 1269.6L23.6 1273.2L37.1 1265.4L37.0 1261.9Z" fill="#fff" stroke="#b13a5f" stroke-width="1" stroke-linejoin="round"/>
<path d="M23.6 1273.2L15.3 1272.2L28.7 1264.4L37.1 1265.4Z" fill="#fff" stroke="#b13a5f" stroke-width="1" stroke-linejoin="round"/>
<path d="M15.3 1272.2L16.6 1279.7L30.0 1272.0L28.7 1264.4Z" fill="#fff" stroke="#b13a5f" stroke-width="1" stroke-linejoin="round"/>
<path d="M16.6 1279.7L25.5 1284.2L39.0 1276.5L30.0 1272.0Z" fill="#fff" stroke="#b13a5f" stroke-width="1" stroke-linejoin="round"/>
<path d="M25.5 1284.2L27.7 1290.8L41.1 1283.1L39.0 1276.5Z" fill="#fff" stroke="#b13a5f" stroke-width="1" stroke-linejoin="round"/>
<path d="M27.7 1290.8L29.3 1294.7L42.7 1287.0L41.1 1283.1Z" fill="#fff" stroke="#b13a5f" stroke-width="1" stroke-linejoin="round"/>
<path d="M29.3 1294.7L23.7 1299.6L37.1 1291.9L42.7 1287.0Z" fill="#fff" stroke="#b13a5f" stroke-width="1" stroke-linejoin="round"/>
<path d="M23.7 1299.6L27.8 1307.1L41.2 1299.3L37.1 1291.9Z" fill="#fff" stroke="#b13a5f" stroke-width="1" stroke-linejoin="round"/>
<path d="M27.8 1307.1L35.3 1305.7L48.7 1297.9L41.2 1299.3Z" fill="#fff" stroke="#b13a5f" stroke-width="1" stroke-linejoin="round"/>
<path d="M35.3 1305.7L39.4 1311.5L52.8 1303.7L48.7 1297.9Z" fill="#fff" stroke="#b13a5f" stroke-width="1" stroke-linejoin="round"/>
<path d="M39.4 1311.5L42.1 1314.7L55.6 1306.9L52.8 1303.7Z" fill="#fff" stroke="#b13a5f" stroke-width="1" stroke-linejoin="round"/>
<path d="M42.1 1314.7L40.8 1324.2L54.2 1316.4L55.6 1306.9Z" fill="#fff" stroke="#b13a5f" stroke-width="1" stroke-linejoin="round"/>
<path d="M40.8 1324.2L46.5 1329.6L60.0 1321.8L54.2 1316.4Z" fill="#fff" stroke="#b13a5f" stroke-width="1" stroke-linejoin="round"/>
<path d="M46.5 1329.6L50.5 1322.6L64.0 1314.9L60.0 1321.8Z" fill="#fff" stroke="#b13a5f" stroke-width="1" stroke-linejoin="round"/>
<path d="M50.5 1322.6L55.6 1326.1L69.0 1318.3L64.0 1314.9Z" fill="#fff" stroke="#b13a5f" stroke-width="1" stroke-linejoin="round"/>
<path d="M55.6 1326.1L58.7 1327.7L72.1 1320.0L69.0 1318.3Z" fill="#fff" stroke="#b13a5f" stroke-width="1" stroke-linejoin="round"/>
<path d="M58.7 1327.7L61.9 1339.2L75.4 1331.5L72.1 1320.0Z" fill="#fff" stroke="#b13a5f" stroke-width="1" stroke-linejoin="round"/>
<path d="M61.9 1339.2L67.8 1341.1L81.3 1333.4L75.4 1331.5Z" fill="#fff" stroke="#b13a5f" stroke-width="1" stroke-linejoin="round"/>
<path d="M67.8 1341.1L67.3 1330.5L80.7 1322.7L81.3 1333.4Z" fill="#fff" stroke="#b13a5f" stroke-width="1" stroke-linejoin="round"/>
<path d="M67.3 1330.5L71.9 1330.7L85.3 1322.9L80.7 1322.7Z" fill="#fff" stroke="#b13a5f" stroke-width="1" stroke-linejoin="round"/>
<path d="M71.9 1330.7L74.5 1330.3L87.9 1322.6L85.3 1322.9Z" fill="#fff" stroke="#b13a5f" stroke-width="1" stroke-linejoin="round"/>
<path d="M74.5 1330.3L81.5 1340.8L94.9 1333.0L87.9 1322.6Z" fill="#fff" stroke="#b13a5f" stroke-width="1" stroke-linejoin="round"/>
<path d="M81.5 1340.8L85.9 1338.7L99.4 1330.9L94.9 1333.0Z" fill="#fff" stroke="#b13a5f" stroke-width="1" stroke-linejoin="round"/>
<path d="M85.9 1338.7L81.0 1327.2L94.4 1319.4L99.4 1330.9Z" fill="#fff" stroke="#b13a5f" stroke-width="1" stroke-linejoin="round"/>
<path d="M81.0 1327.2L83.9 1324.1L97.4 1316.3L94.4 1319.4Z" fill="#fff" stroke="#b13a5f" stroke-width="1" stroke-linejoin="round"/>
<path d="M83.9 1324.1L85.4 1321.8L98.8 1314.0L97.4 1316.3Z" fill="#fff" stroke="#b13a5f" stroke-width="1" stroke-linejoin="round"/>
<path d="M85.4 1321.8L94.2 1328.4L107.6 1320.7L98.8 1314.0Z" fill="#fff" stroke="#b13a5f" stroke-width="1" stroke-linejoin="round"/>
<path d="M94.2 1328.4L96.0 1322.8L109.5 1315.1L107.6 1320.7Z" fill="#fff" stroke="#b13a5f" stroke-width="1" stroke-linejoin="round"/>
<path d="M96.0 1322.8L88.0 1313.6L101.4 1305.8L109.5 1315.1Z" fill="#fff" stroke="#b13a5f" stroke-width="1" stroke-linejoin="round"/>
<path d="M88.0 1313.6L88.5 1308.0L101.9 1300.2L101.4 1305.8Z" fill="#fff" stroke="#b13a5f" stroke-width="1" stroke-linejoin="round"/>
<path d="M88.5 1308.0L88.4 1304.4L96.7 1305.4L95.4 1297.9L86.5 1293.4L84.3 1286.8L82.7 1282.9L88.3 1278.0L84.2 1270.5L76.7 1271.9L72.6 1266.1L69.9 1262.9L71.2 1253.4L65.5 1248.0L61.5 1255.0L56.4 1251.5L53.3 1249.9L50.1 1238.4L44.2 1236.5L44.7 1247.1L40.1 1246.9L37.5 1247.3L30.5 1236.8L26.1 1238.9L31.0 1250.4L28.1 1253.5L26.6 1255.8L17.8 1249.2L16.0 1254.8L24.0 1264.0L23.5 1269.6L23.6 1273.2L15.3 1272.2L16.6 1279.7L25.5 1284.2L27.7 1290.8L29.3 1294.7L23.7 1299.6L27.8 1307.1L35.3 1305.7L39.4 1311.5L42.1 1314.7L40.8 1324.2L46.5 1329.6L50.5 1322.6L55.6 1326.1L58.7 1327.7L61.9 1339.2L67.8 1341.1L67.3 1330.5L71.9 1330.7L74.5 1330.3L81.5 1340.8L85.9 1338.7L81.0 1327.2L83.9 1324.1L85.4 1321.8L94.2 1328.4L96.0 1322.8L88.0 1313.6Z" fill="#fff" stroke="#b13a5f" stroke-width="1" stroke-linejoin="round"/>
<ellipse cx="56.0" cy="1288.8" rx="31.84" ry="18.38" transform="rotate(-120.0 56.0 1288.8)" fill="none" stroke="#b13a5f" stroke-width="1"/>
</svg>

<div id="l1" class="abs lab" style="left:156.8px;top:616px;transform:scaleX(1.056);">Kosteneinsparungen</div>
<div class="bar" style="left:157px;top:646.2px;width:482px;height:59.3px;background:#a8385b;"></div>
<div id="v1" class="abs val" style="left:514.5px;top:655.5px;font-size:42px;transform:scaleX(1.09);">63 %</div>
<div id="l2" class="abs lab" style="left:156.2px;top:751.3px;transform:scaleX(1.062);">Remote-Zugriff</div>
<div class="bar" style="left:157px;top:781px;width:309px;height:59.7px;background:#0478d7;"></div>
<div id="v2" class="abs val" style="left:390px;top:800px;font-size:24px;-webkit-text-stroke:0.6px #fff;transform:scaleX(1.074);">46 %</div>
<div class="abs lab" style="left:156.2px;top:866.3px;transform:scaleX(1.0423);">Einsparung</div>
<div class="abs lab" style="left:296.5px;top:866.3px;transform:scaleX(0.9385);">von</div>
<div class="abs lab" style="left:343.4px;top:866.3px;transform:scaleX(1.0352);">Lagerfläche</div>
<div class="bar" style="left:157px;top:896px;width:278.4px;height:59.7px;background:#0478d7;"></div>
<div id="v3" class="abs val" style="left:359.3px;top:915px;font-size:24px;-webkit-text-stroke:0.6px #fff;transform:scaleX(1.085);">43 %</div>
<svg id="icons" class="abs" style="left:0;top:0;" width="1081" height="1350" viewBox="0 0 1081 1350" fill="none">
<g stroke="#1b2532" stroke-width="2" stroke-linejoin="miter" stroke-linecap="butt">
<!-- doc icon -->
<path d="M120.9 676.3V660.5L111.6 651.3H89V696.6H120.9V687.8"/>
<path d="M111.6 651.3V660.5H120.9"/>
<path d="M95.3 667.5H105.8M95.3 672.9H113.2M95.3 678.2H111.4M95.3 683.7H105.4" stroke-linecap="round" stroke-width="1.8"/>
<!-- server icon -->
<path d="M102.4 801.5H84.4V793H126.8V801.5H124.4" stroke-width="2.2"/>
<path d="M101.9 797.3H120.4" stroke-linecap="round" stroke-width="1.9"/>
<path d="M99.6 806.6H84.4V815H90" stroke-width="2.2"/>
<path d="M90 820.4H84.4V828.9H91.8" stroke-width="2.2"/>
<g fill="#1b2532" stroke="none"><circle cx="89.4" cy="797.3" r="1.1"/><circle cx="93.2" cy="797.3" r="1.1"/><circle cx="89.2" cy="810.8" r="1.1"/><circle cx="89.2" cy="824.7" r="1.1"/></g>
<!-- folder icon -->
<path d="M88.4 907H102.8L106.1 911.9H132.4V944.5H88.4Z"/>
</g>
<g stroke="#1b78cf" stroke-width="1.65" stroke-linejoin="miter" stroke-linecap="butt">
<path d="M125.3 665.2V687M118.1 680.2L125.3 687.4L132.9 680.2"/>
<path d="M100.8 828.9A9 9 0 0 1 101.5 810.6A13 13 0 0 1 126.3 813.2A8.6 8.6 0 0 1 128.5 828.9Z" stroke="#1b6fc0" stroke-width="2"/>
<path d="M110.4 919.3V936M104.2 930L110.4 936.4L116.7 930"/>
</g>
</svg>
<!--BARS-->
</body>
</html>
